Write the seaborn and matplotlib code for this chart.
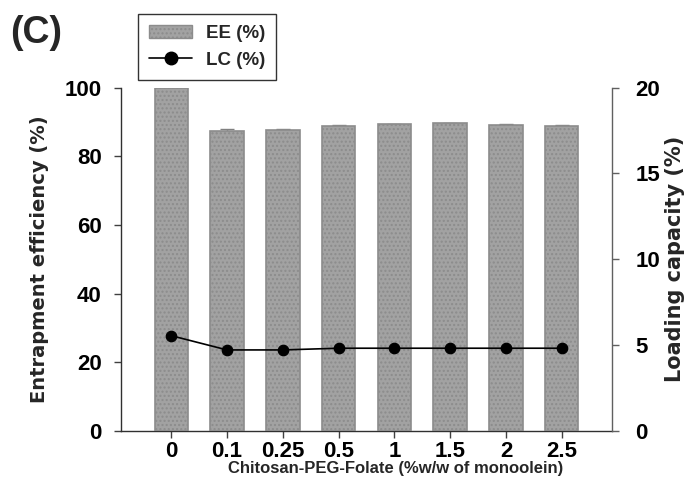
import numpy as np
import matplotlib
matplotlib.use("Agg")
import matplotlib.pyplot as plt
import seaborn as sns
from matplotlib.patches import Patch
from matplotlib.lines import Line2D

# data
concentrations = ["0", "0.1", "0.25", "0.5", "1", "1.5", "2", "2.5"]
ee_values = [100.0, 87.4, 87.7, 88.7, 89.3, 89.6, 89.1, 88.9]
ee_errors = [0.0, 0.6, 0.2, 0.3, 0.15, 0.15, 0.15, 0.2]
lc_values = [5.55, 4.72, 4.72, 4.82, 4.82, 4.82, 4.82, 4.82]

sns.set_style("ticks")
plt.rcParams["font.family"] = ["Liberation Sans", "DejaVu Sans"]
plt.rcParams["font.weight"] = "bold"
plt.rcParams["hatch.linewidth"] = 1.0

wide = ["DejaVu Sans"]

fig = plt.figure(figsize=(6.94, 4.87), dpi=100)
ax = fig.add_axes([0.1744, 0.115, 0.7074, 0.7053])

bar_face = "#a2a2a2"
bar_edge = "#8c8c8c"

# entrapment efficiency bars
sns.barplot(x=concentrations, y=ee_values, order=concentrations, color=bar_face,
            saturation=1, width=0.6, edgecolor=bar_edge, linewidth=1.2, ax=ax, zorder=3)
for p in ax.patches:
    p.set_hatch("....")
    p.set_edgecolor(bar_edge)

pos = np.arange(len(concentrations))
ax.errorbar(pos, ee_values, yerr=ee_errors, fmt="none", ecolor="#808080",
            elinewidth=1, capsize=5, capthick=1, zorder=2)

ax.set_xlim(-0.9, 7.9)
ax.set_ylim(0, 100)
ax.set_yticks([0, 20, 40, 60, 80, 100])
ax.set_xlabel("Chitosan-PEG-Folate (%w/w of monoolein)", fontsize=12, fontweight="bold", va="top")
ax.xaxis.set_label_coords(0.56, -0.088)
ax.set_ylabel("Entrapment efficiency (%)", fontsize=14, fontweight="bold", family=wide)
ax.yaxis.set_label_coords(-0.147, 0.5)
ax.tick_params(axis="both", direction="out", length=5, width=1, colors="#404040",
               labelcolor="black", labelsize=16)
ax.tick_params(axis="y", pad=9)
ax.tick_params(axis="x", pad=2)
for lab in ax.get_xticklabels() + ax.get_yticklabels():
    lab.set_fontweight("bold")
ax.spines["top"].set_visible(False)
ax.spines["right"].set_visible(False)
for s in ["left", "bottom"]:
    ax.spines[s].set_color("#303030")
    ax.spines[s].set_linewidth(1)

# loading capacity on the right axis
ax2 = ax.twinx()
sns.pointplot(x=concentrations, y=lc_values, order=concentrations, color="black",
              markers="o", linestyles="-", markersize=7.5, linewidth=1.2, ax=ax2)
ax2.set_xlim(-0.9, 7.9)
ax2.set_ylim(0, 20)
ax2.set_yticks([0, 5, 10, 15, 20])
ax2.set_ylabel("Loading capacity (%)", fontsize=15, fontweight="bold", family=wide)
ax2.yaxis.set_label_coords(1.108, 0.5)
ax2.tick_params(axis="y", direction="out", length=5, width=1, colors="#606060",
                labelcolor="black", labelsize=16, pad=12)
for lab in ax2.get_yticklabels():
    lab.set_fontweight("bold")
for s in ["top", "left", "bottom"]:
    ax2.spines[s].set_visible(False)
ax2.spines["right"].set_visible(True)
ax2.spines["right"].set_color("#606060")
ax2.spines["right"].set_linewidth(1)

handles = [
    Patch(facecolor=bar_face, edgecolor=bar_edge, hatch="....", label="EE (%)"),
    Line2D([0], [0], color="black", lw=1.2, marker="o", markersize=9, label="LC (%)"),
]
leg = fig.legend(handles=handles, loc="upper left", bbox_to_anchor=(0.199, 0.971),
                 borderaxespad=0, frameon=True, fancybox=False, edgecolor="black",
                 handlelength=2.3, handletextpad=0.7, borderpad=0.6, labelspacing=0.5,
                 prop={"weight": "bold", "size": 13.5})
leg.get_frame().set_linewidth(1)

fig.text(0.014, 0.97, "(C)", fontsize=27, fontweight="bold", va="top", ha="left")

fig.savefig("out.png", dpi=100)
